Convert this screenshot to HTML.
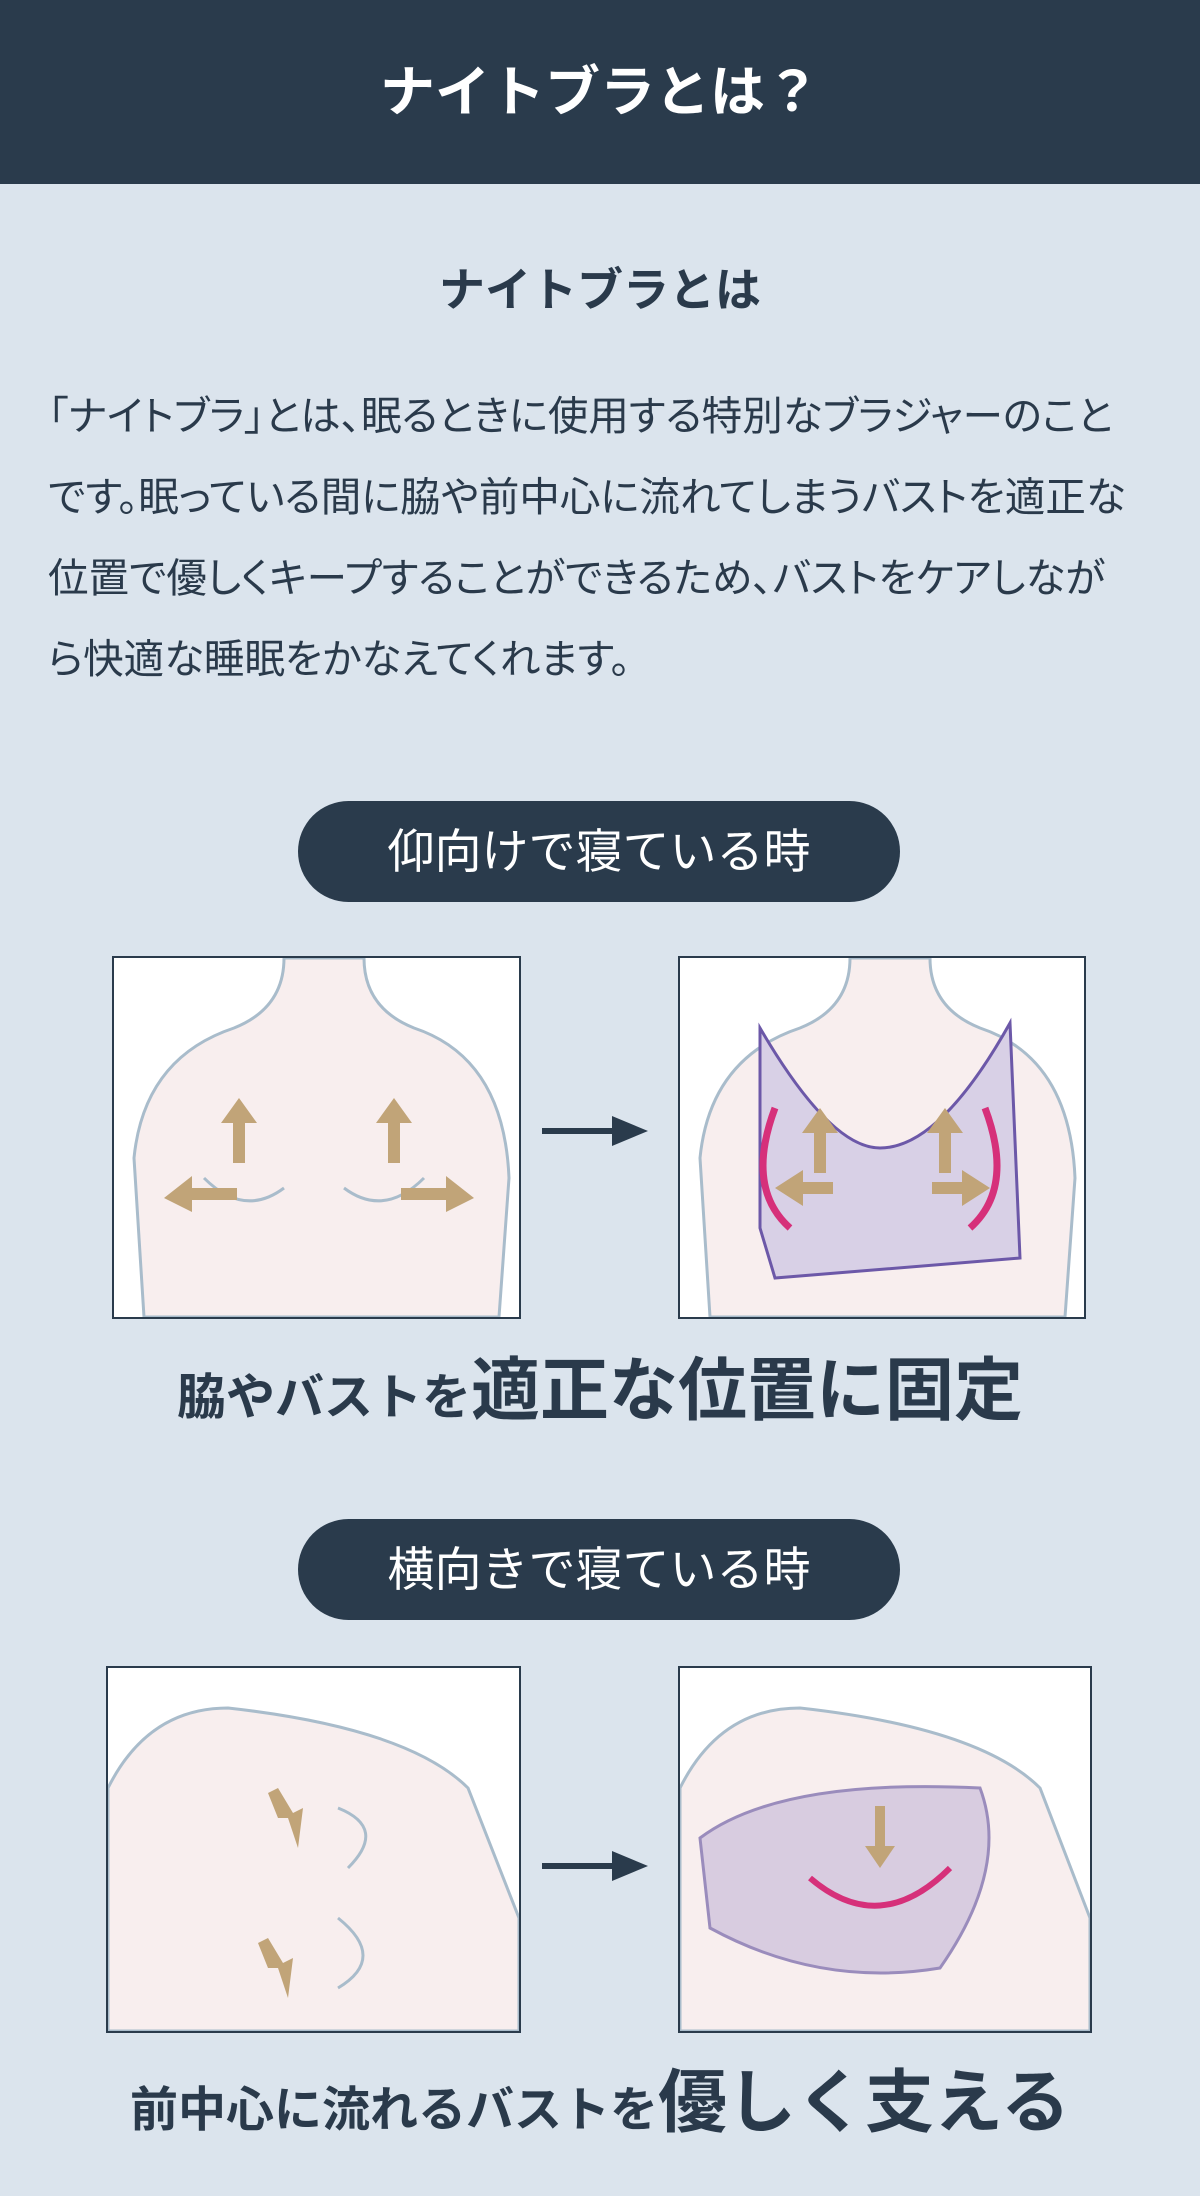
<!DOCTYPE html>
<html><head><meta charset="utf-8"><style>
*{margin:0;padding:0;box-sizing:border-box}
body{width:1200px;height:2196px;background:#dbe4ed;font-family:"Liberation Sans","Noto Sans CJK JP",sans-serif;color:#2a3a4b;position:relative;overflow:hidden}
.hdr{position:absolute;left:0;top:0;width:1200px;height:184px;background:#2a3b4c;color:#fff;font-size:55px;font-weight:bold;text-align:center;line-height:184px}
.sub{position:absolute;top:254px;width:1200px;text-align:center;font-size:46px;font-weight:bold}
.p{position:absolute;left:48px;top:376px;width:1150px;font-size:40.5px;line-height:81px;color:#2a3a4b;white-space:nowrap;font-feature-settings:"palt"}
.pill{position:absolute;left:298px;width:602px;height:101px;border-radius:51px;background:#2a3b4c;color:#fff;font-size:47px;text-align:center;line-height:101px}
.box{position:absolute;background:#fff;border:2px solid #2a3b4c;overflow:hidden}
.arr{position:absolute;left:542px;width:106px;height:30px}
.cap{position:absolute;width:1200px;text-align:center;font-weight:bold;color:#2a3a4b;white-space:nowrap}
.cap span{font-size:69px}
</style></head><body>
<div class="hdr">ナイトブラとは？</div>
<div class="sub">ナイトブラとは</div>
<div class="p">「ナイトブラ」とは、眠るときに使用する特別なブラジャーのこと<br>です。眠っている間に脇や前中心に流れてしまうバストを適正な<br>位置で優しくキープすることができるため、バストをケアしなが<br>ら快適な睡眠をかなえてくれます。</div>

<div class="pill" style="top:801px">仰向けで寝ている時</div>
<div class="box" style="left:112px;top:956px;width:409px;height:363px">
<svg width="405" height="359" viewBox="0 0 405 359"><path d="M30 359 L20 200 Q30 100 120 70 Q170 50 170 0 L250 0 Q250 50 300 70 Q390 100 395 220 L385 359Z" fill="#f8eeee" stroke="#a9bccb" stroke-width="3"/>
<path d="M90 220 Q130 260 170 230 M230 230 Q270 260 310 220" fill="none" stroke="#a9bccb" stroke-width="3"/>
<g fill="#c1a478"><path d="M125 140 l-18 25 h12 v40 h12 v-40 h12z"/><path d="M280 140 l-18 25 h12 v40 h12 v-40 h12z"/><path d="M50 240 l28 -22 v12 h45 v12 h-45 v12z"/><path d="M360 240 l-28 -22 v12 h-45 v12 h45 v12z"/></g></svg></div>
<svg class="arr" style="top:1116px" viewBox="0 0 106 30"><rect x="0" y="12" width="75" height="6" fill="#2a3b4c"/><path d="M70 0 L106 15 L70 30Z" fill="#2a3b4c"/></svg>
<div class="box" style="left:678px;top:956px;width:408px;height:363px">
<svg width="404" height="359" viewBox="0 0 404 359"><path d="M30 359 L20 200 Q30 100 120 70 Q170 50 170 0 L250 0 Q250 50 300 70 Q390 100 395 220 L385 359Z" fill="#f8eeee" stroke="#a9bccb" stroke-width="3"/>
<path d="M80 70 Q150 190 200 190 Q260 190 330 65 L340 300 L95 320 L80 270Z" fill="#d8d0e6" stroke="#6c58a8" stroke-width="3"/>
<path d="M95 150 Q65 230 110 270 M305 150 Q335 230 290 270" fill="none" stroke="#d6307a" stroke-width="7"/>
<g fill="#c1a478"><path d="M140 150 l-18 25 h12 v40 h12 v-40 h12z"/><path d="M265 150 l-18 25 h12 v40 h12 v-40 h12z"/><path d="M95 230 l28 -18 v12 h30 v12 h-30 v12z"/><path d="M310 230 l-28 -18 v12 h-30 v12 h30 v12z"/></g></svg></div>
<div class="cap" style="top:1334px;font-size:49px">脇やバストを<span>適正な位置に固定</span></div>

<div class="pill" style="top:1519px">横向きで寝ている時</div>
<div class="box" style="left:106px;top:1666px;width:415px;height:367px">
<svg width="411" height="363" viewBox="0 0 411 363"><path d="M0 363 L0 120 Q40 40 120 40 Q300 60 360 120 L411 250 L411 363Z" fill="#f8eeee" stroke="#a9bccb" stroke-width="3"/>
<path d="M230 140 Q280 160 240 200 M230 250 Q280 290 230 320" fill="none" stroke="#a9bccb" stroke-width="3"/>
<g fill="#c1a478"><path d="M190 180 l-10 -30 h-10 l-10 -25 l10 -5 l15 25 l10 -5z"/><path d="M180 330 l-10 -30 h-10 l-10 -25 l10 -5 l15 25 l10 -5z"/></g></svg></div>
<svg class="arr" style="top:1851px" viewBox="0 0 106 30"><rect x="0" y="12" width="75" height="6" fill="#2a3b4c"/><path d="M70 0 L106 15 L70 30Z" fill="#2a3b4c"/></svg>
<div class="box" style="left:678px;top:1666px;width:414px;height:367px">
<svg width="410" height="363" viewBox="0 0 410 363"><path d="M0 363 L0 120 Q40 40 120 40 Q300 60 360 120 L410 250 L410 363Z" fill="#f8eeee" stroke="#a9bccb" stroke-width="3"/>
<path d="M20 170 Q100 110 300 120 Q330 200 260 300 Q140 320 30 260Z" fill="#d8cce0" stroke="#9a8cbc" stroke-width="3"/>
<path d="M130 210 Q200 270 270 200" fill="none" stroke="#d6307a" stroke-width="6"/>
<path d="M200 200 l-15 -22 h10 v-40 h10 v40 h10z" fill="#c1a478"/></svg></div>
<div class="cap" style="top:2046px;font-size:48px">前中心に流れるバストを<span>優しく支える</span></div>
</body></html>
